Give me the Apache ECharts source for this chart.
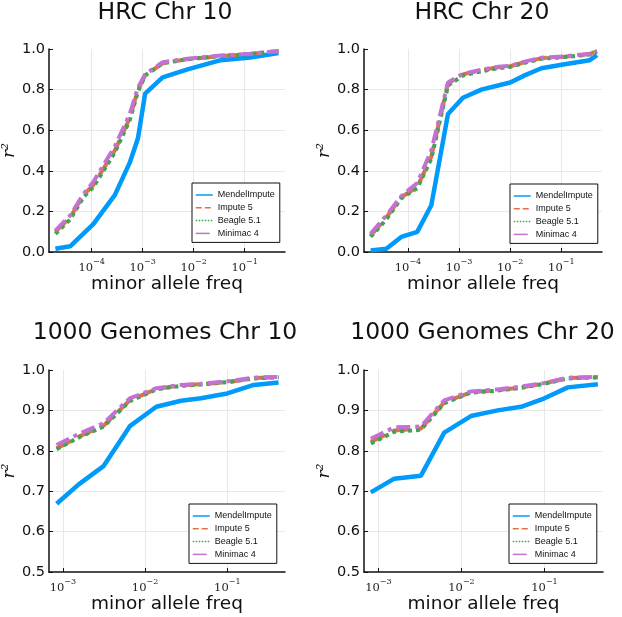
<!DOCTYPE html>
<html>
<head>
<meta charset="utf-8">
<script src="https://cdn.jsdelivr.net/npm/echarts@6/dist/echarts.min.js"></script>
<style>
  html, body { margin: 0; padding: 0; background: #fff; }
  #main { width: 622px; height: 617px; }
</style>
</head>
<body>
<div id="main"></div>
<script>
// panel titles and legend names
var titles = ['HRC Chr 10', 'HRC Chr 20', '1000 Genomes Chr 10', '1000 Genomes Chr 20'];
var names = ['MendelImpute', 'Impute 5', 'Beagle 5.1', 'Minimac 4'];

// HRC chr 10
var hrc10Maf = [1.95e-5, 3.8e-5, 6.9e-5, 1.08e-4, 2.85e-4, 5.6e-4, 8.1e-4, 1.12e-3, 2.47e-3, 7.6e-3, 0.034, 0.129, 0.46];
var hrc10Mendel = [0.016, 0.028, 0.09, 0.137, 0.28, 0.44, 0.56, 0.78, 0.86, 0.90, 0.945, 0.958, 0.98];
var hrc10Impute = [0.10, 0.17, 0.28, 0.33, 0.50, 0.66, 0.80, 0.87, 0.93, 0.95, 0.965, 0.975, 0.99];
var hrc10Beagle = [0.09, 0.16, 0.27, 0.32, 0.49, 0.65, 0.79, 0.87, 0.93, 0.95, 0.965, 0.975, 0.99];
var hrc10Minimac = [0.105, 0.18, 0.285, 0.345, 0.52, 0.68, 0.81, 0.875, 0.935, 0.952, 0.968, 0.977, 0.99];

// HRC chr 20
var hrc20Maf = [1.86e-5, 3.77e-5, 7.4e-5, 1.52e-4, 2.86e-4, 6.07e-4, 1.19e-3, 2.72e-3, 5.77e-3, 0.01, 0.0192, 0.0407, 0.116, 0.359, 0.5];
var hrc20Mendel = [0.008, 0.016, 0.074, 0.099, 0.23, 0.68, 0.76, 0.80, 0.82, 0.835, 0.87, 0.905, 0.925, 0.945, 0.97];
var hrc20Impute = [0.08, 0.17, 0.27, 0.32, 0.47, 0.83, 0.875, 0.895, 0.91, 0.915, 0.935, 0.955, 0.962, 0.975, 0.99];
var hrc20Beagle = [0.075, 0.16, 0.265, 0.315, 0.46, 0.82, 0.87, 0.89, 0.905, 0.912, 0.932, 0.952, 0.96, 0.973, 0.988];
var hrc20Minimac = [0.09, 0.18, 0.275, 0.34, 0.50, 0.835, 0.878, 0.898, 0.912, 0.917, 0.938, 0.957, 0.964, 0.976, 0.99];

// 1000 genomes chr 10
var kg10Maf = [8.4e-4, 1.56e-3, 3.12e-3, 6.53e-3, 0.0137, 0.0274, 0.0477, 0.1, 0.21, 0.42];
var kg10Mendel = [0.669, 0.717, 0.762, 0.861, 0.909, 0.924, 0.93, 0.942, 0.963, 0.969];
var kg10Impute = [0.806, 0.835, 0.862, 0.925, 0.953, 0.962, 0.965, 0.970, 0.98, 0.982];
var kg10Beagle = [0.804, 0.833, 0.86, 0.923, 0.952, 0.961, 0.964, 0.97, 0.979, 0.982];
var kg10Minimac = [0.814, 0.842, 0.868, 0.93, 0.955, 0.963, 0.966, 0.972, 0.981, 0.983];

// 1000 genomes chr 20
var kg20Maf = [8.1e-4, 1.55e-3, 3.24e-3, 6.2e-3, 0.013, 0.0273, 0.0523, 0.1, 0.191, 0.44];
var kg20Mendel = [0.697, 0.731, 0.738, 0.845, 0.886, 0.90, 0.909, 0.930, 0.957, 0.965];
var kg20Impute = [0.822, 0.85, 0.855, 0.92, 0.945, 0.95, 0.957, 0.967, 0.98, 0.982];
var kg20Beagle = [0.818, 0.847, 0.852, 0.918, 0.944, 0.949, 0.956, 0.966, 0.979, 0.982];
var kg20Minimac = [0.83, 0.858, 0.86, 0.925, 0.947, 0.952, 0.959, 0.968, 0.981, 0.983];

var panels = [
  { maf: hrc10Maf, vals: [hrc10Mendel, hrc10Impute, hrc10Beagle, hrc10Minimac] },
  { maf: hrc20Maf, vals: [hrc20Mendel, hrc20Impute, hrc20Beagle, hrc20Minimac] },
  { maf: kg10Maf, vals: [kg10Mendel, kg10Impute, kg10Beagle, kg10Minimac] },
  { maf: kg20Maf, vals: [kg20Mendel, kg20Impute, kg20Beagle, kg20Minimac] }
];

// layout (plot boxes in px)
var boxes = [
  { left: 47, top: 49, width: 238, height: 203, xmin: 1.46e-5, xmax: 0.618, ymin: 0, ymax: 1, step: 0.2 },
  { left: 364, top: 49, width: 238, height: 203, xmin: 1.38e-5, xmax: 0.625, ymin: 0, ymax: 1, step: 0.2 },
  { left: 47, top: 370, width: 238, height: 202, xmin: 6.78e-4, xmax: 0.503, ymin: 0.5, ymax: 1, step: 0.1 },
  { left: 364, top: 370, width: 239, height: 202, xmin: 6.7e-4, xmax: 0.507, ymin: 0.5, ymax: 1, step: 0.1 }
];
var legendPos = [[192, 183], [510, 184], [189, 504], [509, 504]];

var colors = ['#009AFA', '#E36F47', '#3EA44E', '#C371D2'];
var lineTypes = ['solid', 'dashed', 'dotted', [14, 5, 4, 5]];
var widths = [4.5, 4, 4, 4];

function powLabel(v) {
  var e = Math.log10(v);
  var r = Math.round(e);
  if (Math.abs(e - r) > 1e-6) return '';
  return '{b|10}{s|' + String(r).replace('-', '\u2212') + '}';
}

var grids = [], xAxes = [], yAxes = [], series = [], titleArr = [], legends = [];
boxes.forEach(function (b, i) {
  grids.push({ left: b.left, top: b.top, width: b.width, height: b.height, containLabel: false });
  titleArr.push({
    text: titles[i], left: b.left + b.width / 2 - 1, top: i < 2 ? 1 : 321, textAlign: 'center', padding: 0,
    textStyle: { fontFamily: 'DejaVu Sans', fontSize: 23.5, fontWeight: 'normal', color: '#111' }
  });
  xAxes.push({
    type: 'log', logBase: 10, gridIndex: i, min: b.xmin, max: b.xmax,
    name: 'minor allele freq', nameLocation: 'middle', nameGap: 21,
    nameTextStyle: { fontFamily: 'DejaVu Sans', fontSize: 18.5, color: '#111' },
    axisLine: { lineStyle: { color: '#111', width: 1.5 } },
    axisTick: { inside: true, length: 4, lineStyle: { color: '#111', width: 1 } },
    axisLabel: {
      formatter: powLabel, margin: 6, showMinLabel: false, showMaxLabel: false,
      rich: {
        b: { fontFamily: 'DejaVu Serif', fontSize: 11.5, color: '#222', lineHeight: 16, verticalAlign: 'bottom' },
        s: { fontFamily: 'DejaVu Serif', fontSize: 8, color: '#222', lineHeight: 8, verticalAlign: 'top' }
      }
    },
    splitLine: { show: true, showMinLine: false, showMaxLine: false, lineStyle: { color: '#e8e8e8', width: 1 } }
  });
  yAxes.push({
    type: 'value', gridIndex: i, min: b.ymin, max: b.ymax, interval: b.step,
    name: 'r\u00B2', nameLocation: 'middle', nameGap: 30, nameRotate: 90,
    nameTextStyle: { fontFamily: 'DejaVu Serif', fontStyle: 'italic', fontSize: 17, color: '#111' },
    axisLine: { show: true, lineStyle: { color: '#111', width: 1.5 } },
    axisTick: { show: true, inside: true, length: 4, lineStyle: { color: '#111', width: 1 } },
    axisLabel: { formatter: function (v) { return v.toFixed(1); }, fontFamily: 'DejaVu Sans', fontSize: 14.5, color: '#111', margin: 4 },
    splitLine: { show: true, showMinLine: false, showMaxLine: false, lineStyle: { color: '#e8e8e8', width: 1 } }
  });
  var p = panels[i];
  for (var k = 0; k < 4; k++) {
    series.push({
      name: names[k], type: 'line', xAxisIndex: i, yAxisIndex: i,
      data: p.maf.map(function (x, j) { return [x, p.vals[k][j]]; }),
      symbol: 'none', silent: true, animation: false,
      lineStyle: { color: colors[k], width: widths[k], type: lineTypes[k] },
      itemStyle: { color: colors[k] }
    });
  }
  legends.push({
    data: names, orient: 'vertical', left: legendPos[i][0], top: legendPos[i][1],
    padding: [7, 5, 4, 3], itemGap: 2.8, itemWidth: 17, itemHeight: 10,
    backgroundColor: '#fff', borderColor: '#111', borderWidth: 1, borderRadius: 0,
    selectedMode: false,
    itemStyle: { color: 'rgba(0,0,0,0)', borderWidth: 0, opacity: 0 },
    lineStyle: { width: 1.5 },
    textStyle: { fontFamily: 'Liberation Sans', fontSize: 9, color: '#111', lineHeight: 10 }
  });
});

var chart = echarts.init(document.getElementById('main'));
chart.setOption({
  backgroundColor: '#fff',
  animation: false,
  title: titleArr,
  grid: grids,
  xAxis: xAxes,
  yAxis: yAxes,
  legend: legends,
  series: series
});
</script>
</body>
</html>
